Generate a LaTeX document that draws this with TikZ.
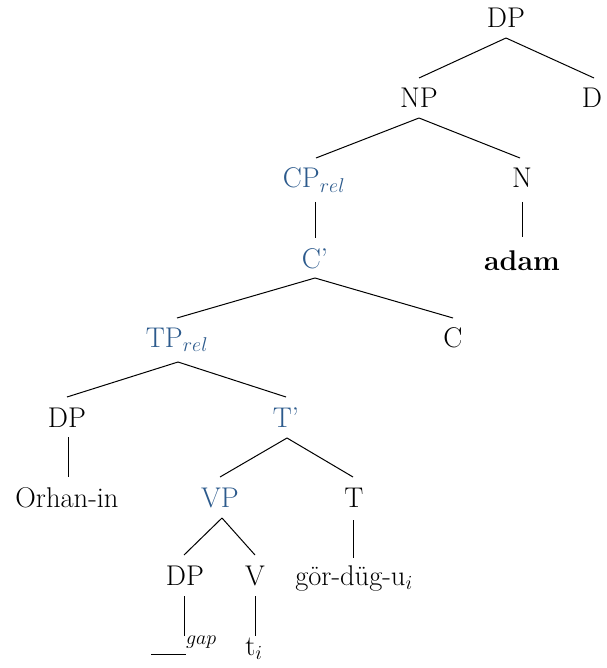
\RequirePackage{fix-cm}
\documentclass[tikz,border=0pt]{standalone}
\usetikzlibrary{calc}
\definecolor{treeblue}{RGB}{44,90,140}
\begin{document}
\begin{tikzpicture}[x=1pt,y=1pt,
  lab/.style={anchor=base,inner sep=0pt,font=\fontsize{28.5}{32}\selectfont},
  bl/.style={lab,text=treeblue},
  edge/.style={line width=1pt,black}]
\useasboundingbox (0,0) rectangle (606,-668);
% nodes
\node[lab] (dp1) at (506,-28) {DP};
\node[lab] (np) at (419,-108) {NP};
\node[lab] (d) at (592,-108) {D};
\node[bl] (cp) at (314,-188) {CP$_{rel}$};
\node[lab] (n) at (522,-188) {N};
\node[bl] (cbar) at (315,-268) {C'};
\node[lab] (adam) at (522,-270) {\textbf{adam}};
\node[bl] (tp) at (177,-347) {TP$_{rel}$};
\node[lab] (c) at (453,-347) {C};
\node[lab] (dp2) at (67,-427) {DP};
\node[bl] (tbar) at (286,-427) {T'};
\node[lab] (orhan) at (67,-507) {Orhan-in};
\node[bl] (vp) at (220,-507) {VP};
\node[lab] (t) at (354,-507) {T};
\node[lab] (dp3) at (185,-585) {DP};
\node[lab] (v) at (255,-585) {V};
\node[lab] (gor) at (354,-585) {gör-düg-u$_i$};
\node[lab] (gap) at (184,-655) {\rule{35pt}{1pt}$^{gap}$};
\node[lab] (ti) at (254,-655) {t$_i$};
% edges
\draw[edge] ($(dp1.base)+(0,-10)$) -- ($(np.base)+(0,30)$);
\draw[edge] ($(dp1.base)+(0,-10)$) -- ($(d.base)+(2,30)$);
\draw[edge] ($(np.base)+(0,-10)$) -- ($(cp.base)+(2,30)$);
\draw[edge] ($(np.base)+(0,-10)$) -- ($(n.base)+(-2,30)$);
\draw[edge] ($(cp.base)+(1,-14)$) -- ($(cbar.base)+(0,30)$);
\draw[edge] ($(n.base)+(0,-14)$) -- ($(adam.base)+(0,33)$);
\draw[edge] ($(cbar.base)+(0,-10)$) -- ($(tp.base)+(0,29)$);
\draw[edge] ($(cbar.base)+(0,-10)$) -- ($(c.base)+(0,29)$);
\draw[edge] ($(tp.base)+(1,-15)$) -- ($(dp2.base)+(0,30)$);
\draw[edge] ($(tp.base)+(1,-15)$) -- ($(tbar.base)+(0,30)$);
\draw[edge] ($(dp2.base)+(1,-10)$) -- ($(orhan.base)+(1,30)$);
\draw[edge] ($(tbar.base)+(1,-11)$) -- ($(vp.base)+(0,30)$);
\draw[edge] ($(tbar.base)+(1,-11)$) -- ($(t.base)+(-1,30)$);
\draw[edge] ($(vp.base)+(2,-11)$) -- ($(dp3.base)+(-1,30)$);
\draw[edge] ($(vp.base)+(2,-11)$) -- ($(v.base)+(0,30)$);
\draw[edge] ($(t.base)+(-1,-13)$) -- ($(gor.base)+(-1,27)$);
\draw[edge] ($(dp3.base)+(-1,-11)$) -- ($(gap.base)+(0,19)$);
\draw[edge] ($(v.base)+(0,-11)$) -- ($(ti.base)+(1,19)$);
\end{tikzpicture}
\end{document}
